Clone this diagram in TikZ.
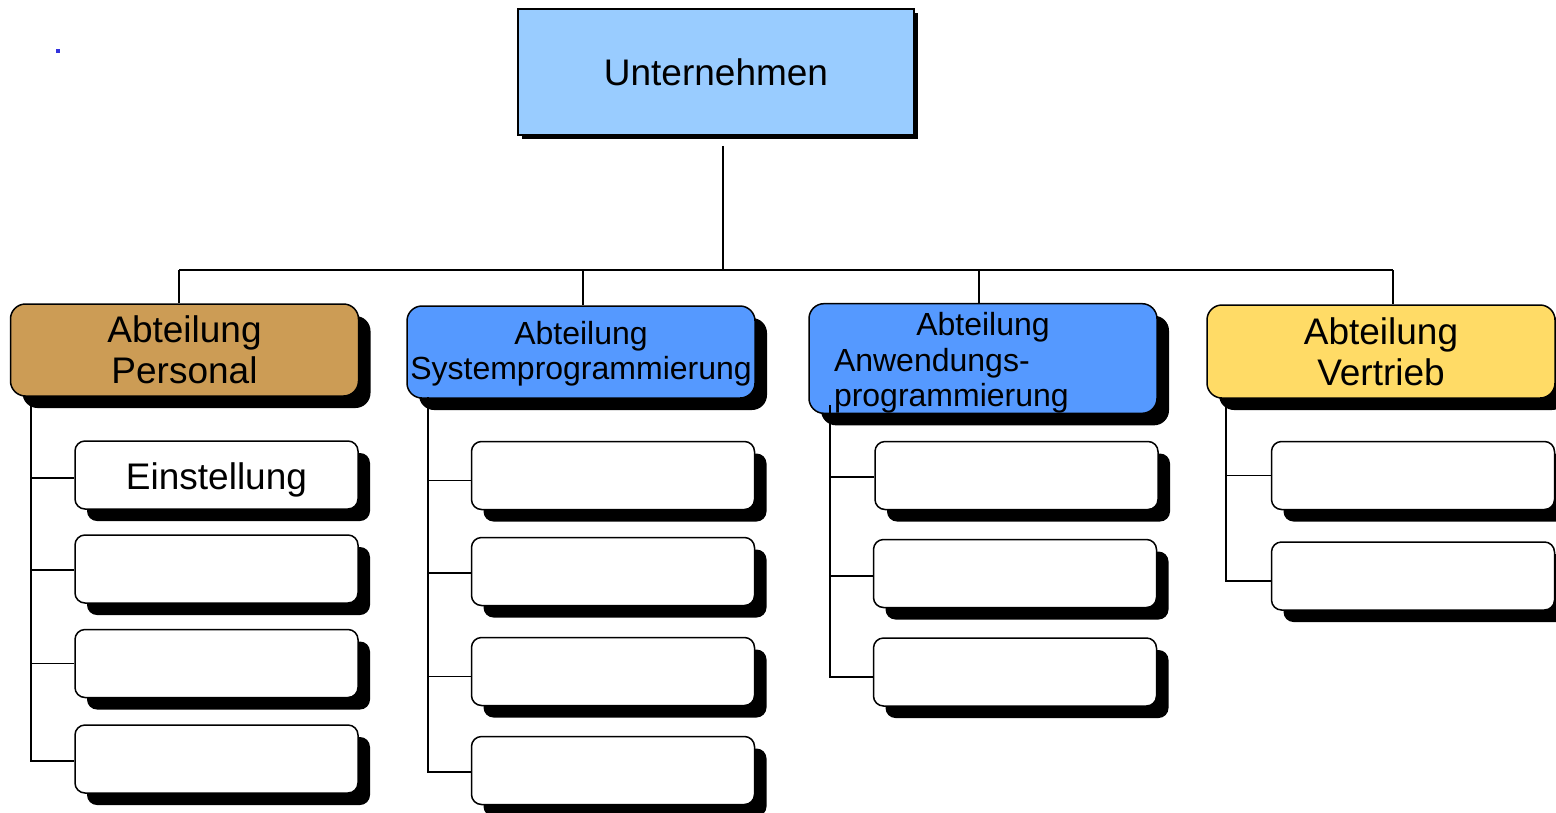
\documentclass[tikz,border=0pt]{standalone}
\usepackage{fontspec}
\setmainfont{Liberation Sans}
\usetikzlibrary{shadows}
\definecolor{topblue}{HTML}{99CCFF}
\definecolor{deptbrown}{HTML}{CC9C55}
\definecolor{deptblue}{HTML}{5599FF}
\definecolor{deptyellow}{HTML}{FFDB66}
\definecolor{dotblue}{HTML}{3333DD}
\tikzset{
  boxbase/.style={draw=black, line width=1.5pt, inner sep=0pt, align=center,
    text=black},
  topbox/.style={boxbase, fill=topblue, minimum width=396pt, minimum height=126pt,
    font=\fontsize{37}{41}\selectfont,
    drop shadow={shadow xshift=4pt, shadow yshift=-4pt, opacity=1, fill=black}},
  deptbox/.style={boxbase, rounded corners=15pt, minimum width=348pt,
    drop shadow={shadow xshift=12pt, shadow yshift=-12pt, opacity=1, fill=black}},
  bigtext/.style={font=\fontsize{37}{41}\selectfont},
  smalltext/.style={font=\fontsize{32}{35.5}\selectfont},
  childbox/.style={boxbase, fill=white, rounded corners=10pt,
    minimum width=283pt, minimum height=68pt,
    font=\fontsize{37}{41}\selectfont,
    drop shadow={shadow xshift=12pt, shadow yshift=-12pt, opacity=1, fill=black}},
  link/.style={draw=black, line width=1.8pt}
}
\begin{document}
\begin{tikzpicture}[x=1pt, y=-1pt]
\useasboundingbox (0,0) rectangle (1556,812);

% marker dot
\fill[dotblue] (56,49) rectangle (60,53);

% root
\node[topbox] (top) at (716,72) {Unternehmen};

% departments
\node[deptbox, fill=deptbrown, minimum height=92pt, bigtext] (d1) at (184.5,350)
  {Abteilung\\Personal};
\node[deptbox, fill=deptblue, minimum height=92pt, smalltext] (d2) at (581,352)
  {\rule{0pt}{27pt}Abteilung\\Systemprogrammierung};
\node[deptbox, fill=deptblue, minimum height=107pt, smalltext, text width=298pt,
  align=left] (d3) at (983,358.5)
  {\makebox[298pt][c]{\rule{0pt}{32pt}Abteilung}\\Anwendungs-\\programmierung};
\node[deptbox, fill=deptyellow, minimum height=93pt, bigtext] (d4) at (1381,351.5)
  {Abteilung\\Vertrieb};

% units of each department
\node[childbox] (c11) at (216.5,475) {\raisebox{0pt}[36pt][8pt]{Einstellung}};
\node[childbox] (c12) at (216.5,569) {};
\node[childbox] (c13) at (216.5,663.5) {};
\node[childbox] (c14) at (216.5,759) {};

\node[childbox] (c21) at (613,475.5) {};
\node[childbox] (c22) at (613,571.5) {};
\node[childbox] (c23) at (613,671.5) {};
\node[childbox] (c24) at (613,770.5) {};

\node[childbox] (c31) at (1016.5,475.5) {};
\node[childbox] (c32) at (1015,573.5) {};
\node[childbox] (c33) at (1015,672) {};

\node[childbox] (c41) at (1413,475.5) {};
\node[childbox] (c42) at (1413,576) {};

% bus from the root to the departments
\coordinate (hub) at (723,270);
\draw[link] ([yshift=-10pt]top.south -| hub) -- (hub);
\draw[link] ([xshift=-5.5pt]d1.north |- hub) -- ([xshift=12pt]d4.north |- hub);
\draw[link] ([xshift=-5.5pt]d1.north |- hub) -- ([xshift=-5.5pt]d1.north);
\draw[link] ([xshift=2pt]d2.north |- hub) -- ([xshift=2pt]d2.north);
\draw[link] ([xshift=-4pt]d3.north |- hub) -- ([xshift=-4pt]d3.north);
\draw[link] ([xshift=12pt]d4.north |- hub) -- ([xshift=12pt]d4.north);

% trunks down the left side of each department
\coordinate (t1) at (31,396);
\coordinate (t2) at (428,397);
\coordinate (t3) at (830,405);
\coordinate (t4) at (1226,398);

\draw[link] (t1) |- ([yshift=-2pt]c14.west);
\draw[link] (t1 |- c11.west) ++(0,3) -- ([yshift=-3pt]c11.west);
\draw[link] (t1 |- c12.west) ++(0,1) -- ([yshift=-1pt]c12.west);
\draw[link] (t1 |- c13.west) -- (c13.west);

\draw[link] (t2) |- ([yshift=-1.5pt]c24.west);
\draw[link] (t2 |- c21.west) ++(0,5) -- ([yshift=-5pt]c21.west);
\draw[link] (t2 |- c22.west) ++(0,1.5) -- ([yshift=-1.5pt]c22.west);
\draw[link] (t2 |- c23.west) ++(0,5) -- ([yshift=-5pt]c23.west);

\draw[link] (t3) |- ([yshift=-5pt]c33.west);
\draw[link] (t3 |- c31.west) ++(0,1.5) -- ([yshift=-1.5pt]c31.west);
\draw[link] (t3 |- c32.west) ++(0,2.5) -- ([yshift=-2.5pt]c32.west);

\draw[link] (t4) |- ([yshift=-5pt]c42.west);
\draw[link] (t4 |- c41.west) -- (c41.west);
\end{tikzpicture}
\end{document}
